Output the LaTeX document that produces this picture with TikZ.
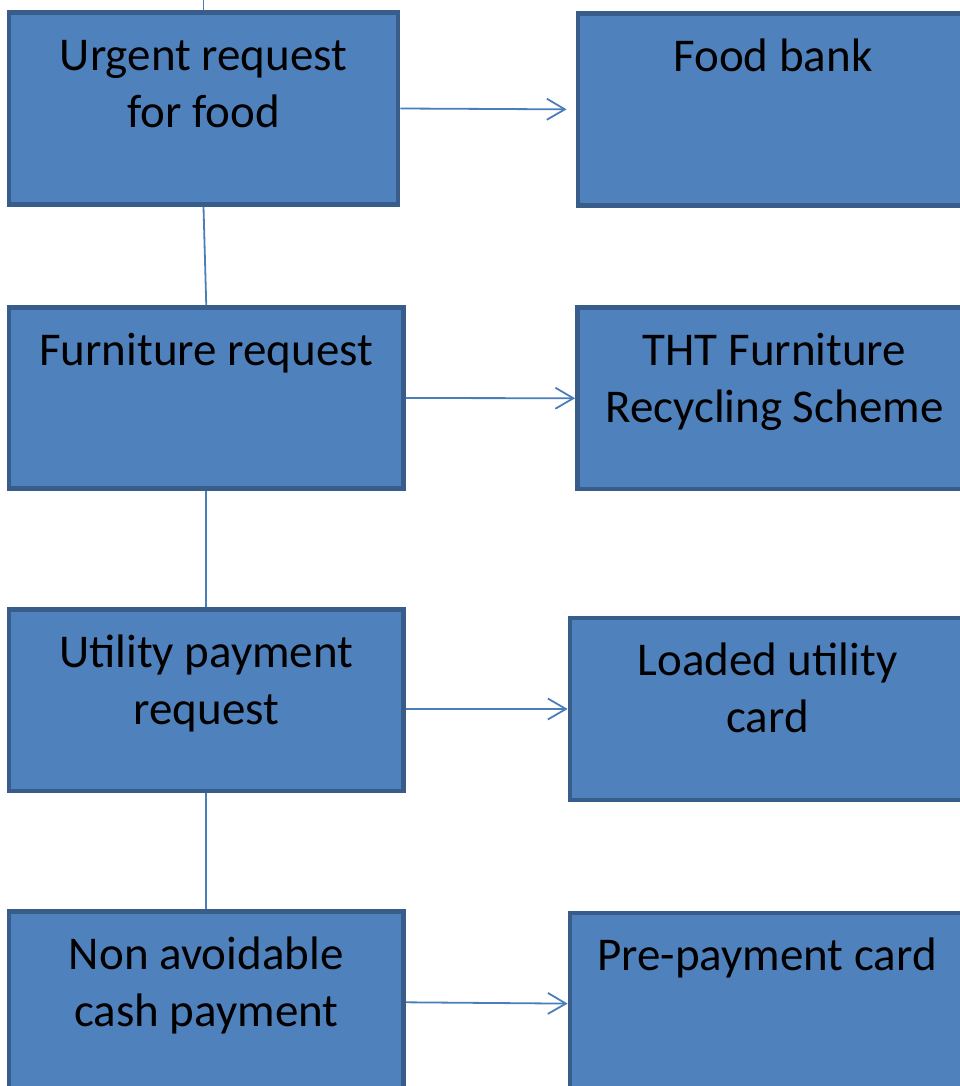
\documentclass[tikz,border=0pt]{standalone}
\usepackage{fontspec}
\setmainfont{Carlito}
\usetikzlibrary{arrows.meta}
\definecolor{boxfill}{HTML}{4F81BD}
\definecolor{boxline}{HTML}{385D8A}
\definecolor{conn}{HTML}{4A7EBB}
\begin{document}
\begin{tikzpicture}[x=1pt,y=-1pt,
  box/.style={draw=boxline, fill=boxfill, line width=4.7pt, inner sep=0pt, rectangle},
  lbl/.style={anchor=base, inner sep=0pt, text=black, font=\fontsize{47}{57}\selectfont},
  link/.style={draw=conn, line width=1.8pt},
  arr/.style={link, -{Straight Barb[length=18pt,width=21pt,line width=1.8pt]}}]
\useasboundingbox (0,0) rectangle (959,1086);
% left column
\node[box, minimum width=389pt, minimum height=192pt] (B1) at (203.5,108.5) {};
\node[box, minimum width=394.5pt, minimum height=181pt] (B2) at (206.25,398) {};
\node[box, minimum width=394.5pt, minimum height=181.2pt] (B3) at (206.25,700.4) {};
\node[box, minimum width=394.5pt, minimum height=181pt] (B4) at (206.25,1002.3) {};
% right column
\node[box, minimum width=390pt, minimum height=192pt] (R1) at (773,109.4) {};
\node[box, minimum width=394pt, minimum height=181.5pt] (R2) at (774.5,398.25) {};
\node[box, minimum width=395pt, minimum height=182pt] (R3) at (767.5,709) {};
\node[box, minimum width=394pt, minimum height=181pt] (R4) at (767,1003.6) {};
% labels
\node[lbl] (T1) at ([yshift=-60pt]B1.north) {\begin{tabular}[t]{@{}c@{}}Urgent request\\for food\end{tabular}};
\node[lbl] (T2) at ([yshift=-60pt]B2.north) {\begin{tabular}[t]{@{}c@{}}Furniture request\end{tabular}};
\node[lbl] (T3) at ([yshift=-60pt]B3.north) {\begin{tabular}[t]{@{}c@{}}Utility payment\\request\end{tabular}};
\node[lbl] (T4) at ([yshift=-60pt]B4.north) {\begin{tabular}[t]{@{}c@{}}Non avoidable\\cash payment\end{tabular}};
\node[lbl] (S1) at ([yshift=-60pt]R1.north) {\begin{tabular}[t]{@{}c@{}}Food bank\end{tabular}};
\node[lbl] (S2) at ([yshift=-60pt]R2.north) {\begin{tabular}[t]{@{}c@{}}THT Furniture\\Recycling Scheme\end{tabular}};
\node[lbl] (S3) at ([yshift=-60pt]R3.north) {\begin{tabular}[t]{@{}c@{}}Loaded utility\\card\end{tabular}};
\node[lbl] (S4) at ([yshift=-60pt]R4.north) {\begin{tabular}[t]{@{}c@{}}Pre-payment card\end{tabular}};
% vertical connectors
\coordinate (top) at (203.5,0);
\draw[link] (top) -- (B1.north);
\draw[link] (B1.south) -- (B2.north);
\draw[link] (B2.south) -- (B3.north);
\draw[link] (B3.south) -- (B4.north);
% arrows
\draw[arr, shorten >=9pt] (B1.east) -- (R1.west);
\draw[arr] (B2.east) -- (R2.west);
\draw[arr] (B3.east |- R3.west) -- (R3.west);
\draw[arr] (B4.east) -- (R4.west);
\end{tikzpicture}
\end{document}
